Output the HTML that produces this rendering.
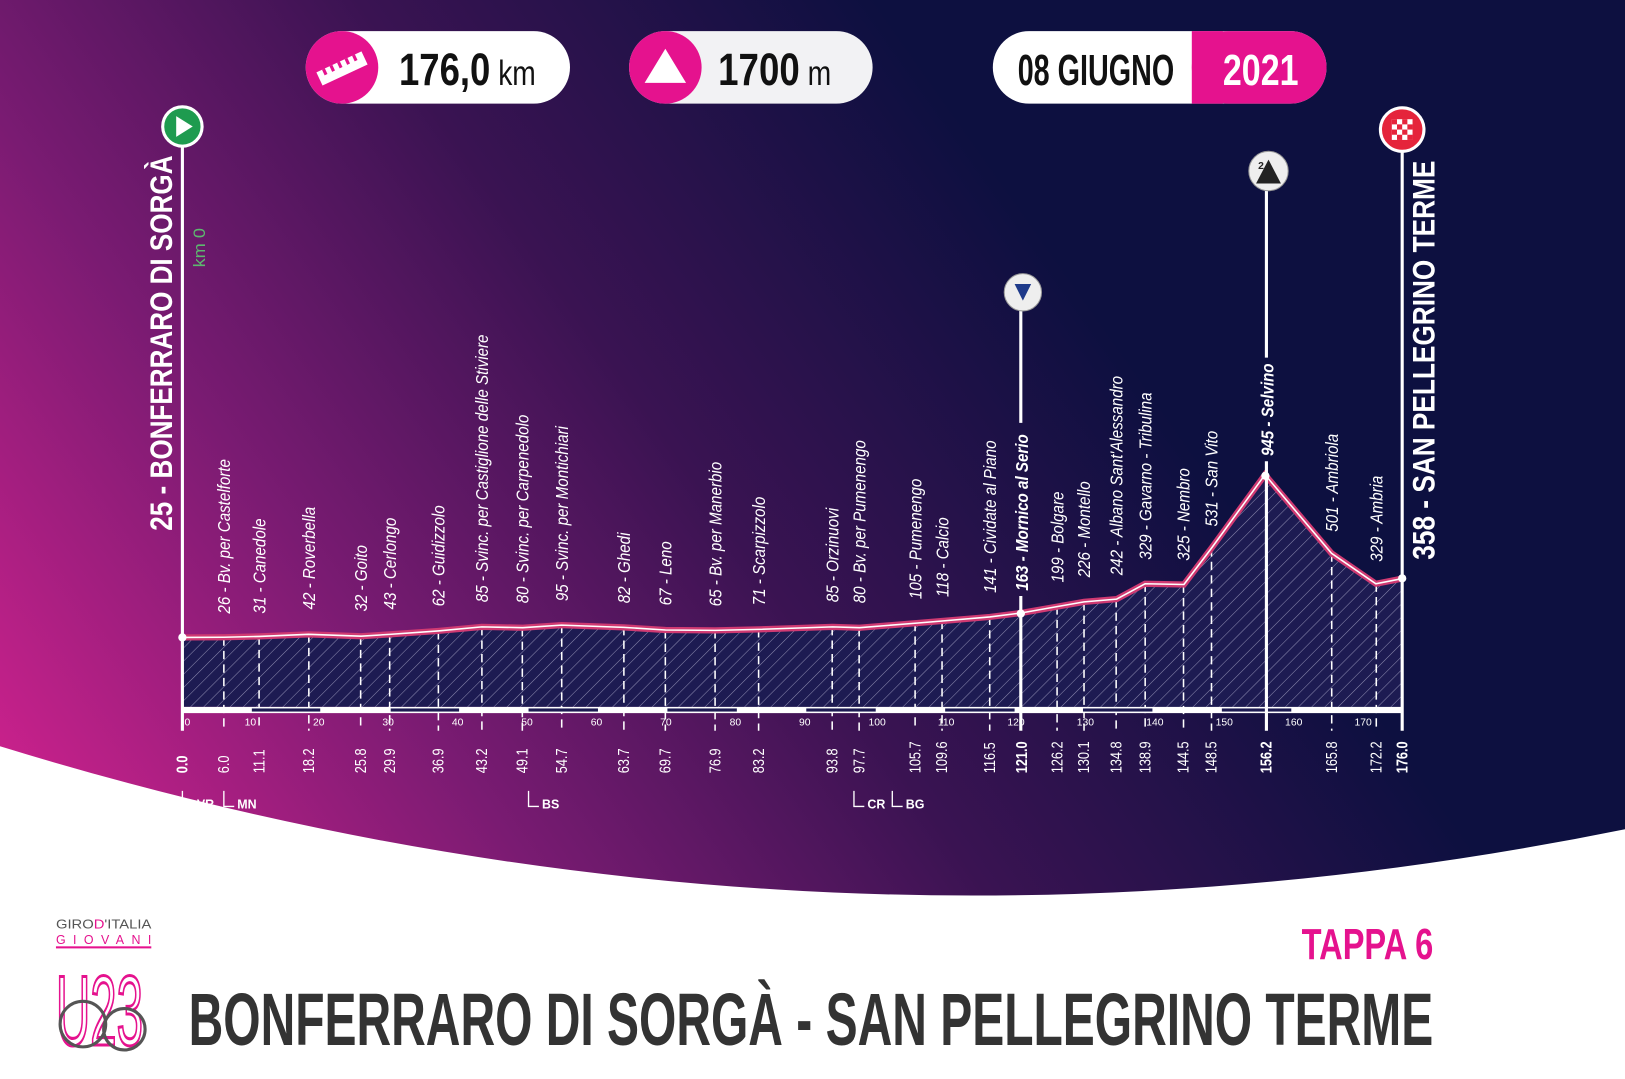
<!DOCTYPE html>
<html><head><meta charset="utf-8"><style>
html,body{margin:0;padding:0;background:#fff;}
svg{display:block;}
.n{font-family:"Liberation Sans",sans-serif;}
.lab{font-family:"Liberation Sans",sans-serif;font-style:italic;font-size:17px;fill:#fff;}
.km{font-family:"Liberation Sans",sans-serif;font-size:15px;fill:#fff;}
.tk{font-family:"Liberation Sans",sans-serif;font-size:10px;fill:#fff;}
</style></head><body>
<svg width="1625" height="1079" viewBox="0 0 1568 1041" preserveAspectRatio="none" xmlns="http://www.w3.org/2000/svg">
<defs>
<linearGradient id="bg" x1="0" y1="820" x2="950" y2="150" gradientUnits="userSpaceOnUse">
<stop offset="0" stop-color="#d4228f"/><stop offset="0.35" stop-color="#7a1b72"/><stop offset="0.65" stop-color="#3a1352"/><stop offset="1" stop-color="#0d1040"/>
</linearGradient>
<pattern id="h" width="9" height="9" patternUnits="userSpaceOnUse" patternTransform="rotate(45)">
<rect width="9" height="9" fill="#1d1b52"/><line x1="0" y1="0" x2="0" y2="9" stroke="#8d8bb0" stroke-width="1"/>
</pattern>
</defs>
<rect width="1568" height="1041" fill="#fff"/>
<path d="M0 0H1568V800Q780 960 0 720Z" fill="url(#bg)"/>
<!-- pills -->
<rect x="295" y="30" width="255" height="70" rx="35" fill="#fff"/>
<circle cx="330" cy="65" r="35" fill="#e5128e"/>
<g transform="rotate(-25 330 66)"><rect x="306" y="59" width="48" height="14" fill="#fff"/><g fill="#e5128e"><rect x="312" y="59" width="3" height="6"/><rect x="320" y="59" width="3" height="6"/><rect x="328" y="59" width="3" height="6"/><rect x="336" y="59" width="3" height="6"/><rect x="344" y="59" width="3" height="6"/></g></g>
<text x="385" y="82" class="n" font-size="44" font-weight="bold" fill="#111" textLength="132" lengthAdjust="spacingAndGlyphs">176,0<tspan font-size="34" font-weight="normal"> km</tspan></text>
<rect x="607" y="30" width="235" height="70" rx="35" fill="#f2f2f4"/>
<circle cx="642" cy="65" r="35" fill="#e5128e"/>
<path d="M642 47L622 80H662Z" fill="#fff"/>
<text x="693" y="82" class="n" font-size="44" font-weight="bold" fill="#111" textLength="109" lengthAdjust="spacingAndGlyphs">1700<tspan font-size="34" font-weight="normal"> m</tspan></text>
<rect x="958" y="30" width="322" height="70" rx="35" fill="#fff"/>
<rect x="1150" y="30" width="130" height="70" rx="35" fill="#e5128e"/>
<rect x="1150" y="30" width="30" height="70" fill="#e5128e"/>
<text x="982" y="82" class="n" font-size="42" font-weight="bold" fill="#111" textLength="151" lengthAdjust="spacingAndGlyphs">08 GIUGNO</text>
<text x="1180" y="82" class="n" font-size="42" font-weight="bold" fill="#fff" textLength="73" lengthAdjust="spacingAndGlyphs">2021</text>
<!-- profile -->
<path d="M176 682L176 615 216.1 614.8 250.2 614 297.7 612 348.5 613.8 376 612 422.8 608.7 464.9 604.8 504.4 605.6 541.8 603.1 602 605.3 642.1 607.8 690.3 608.2 732.4 607.2 803.3 604.8 829.4 605.6 882.9 601.3 909 599.1 955.1 595.2 985.2 591.4 1019.9 585.3 1046 580.7 1077.5 578 1104.9 563.2 1142.4 563.9 1169.1 528.7 1220.6 458 1284.8 533.8 1327.6 563.2 1353 558.2 1353 682Z" fill="url(#h)"/>
<g stroke="#fff" stroke-width="1.5" stroke-dasharray="8 5">
<line x1="216" y1="615" x2="216" y2="705"/><line x1="250" y1="614" x2="250" y2="705"/><line x1="298" y1="612" x2="298" y2="705"/><line x1="348" y1="614" x2="348" y2="705"/><line x1="376" y1="612" x2="376" y2="705"/><line x1="423" y1="609" x2="423" y2="705"/><line x1="465" y1="605" x2="465" y2="705"/><line x1="504" y1="606" x2="504" y2="705"/><line x1="542" y1="603" x2="542" y2="705"/><line x1="602" y1="605" x2="602" y2="705"/><line x1="642" y1="608" x2="642" y2="705"/><line x1="690" y1="608" x2="690" y2="705"/><line x1="732" y1="607" x2="732" y2="705"/><line x1="803" y1="605" x2="803" y2="705"/><line x1="829" y1="606" x2="829" y2="705"/><line x1="883" y1="601" x2="883" y2="705"/><line x1="909" y1="599" x2="909" y2="705"/><line x1="955" y1="595" x2="955" y2="705"/><line x1="1020" y1="585" x2="1020" y2="705"/><line x1="1046" y1="581" x2="1046" y2="705"/><line x1="1077" y1="578" x2="1077" y2="705"/><line x1="1105" y1="563" x2="1105" y2="705"/><line x1="1142" y1="564" x2="1142" y2="705"/><line x1="1169" y1="529" x2="1169" y2="705"/><line x1="1285" y1="534" x2="1285" y2="705"/><line x1="1328" y1="563" x2="1328" y2="705"/>
</g>
<polyline points="176 615 216.1 614.8 250.2 614 297.7 612 348.5 613.8 376 612 422.8 608.7 464.9 604.8 504.4 605.6 541.8 603.1 602 605.3 642.1 607.8 690.3 608.2 732.4 607.2 803.3 604.8 829.4 605.6 882.9 601.3 909 599.1 955.1 595.2 985.2 591.4 1019.9 585.3 1046 580.7 1077.5 578 1104.9 563.2 1142.4 563.9 1169.1 528.7 1220.6 458 1284.8 533.8 1327.6 563.2 1353 558.2" fill="none" stroke="#d03a72" stroke-width="6"/>
<polyline points="176 615 216.1 614.8 250.2 614 297.7 612 348.5 613.8 376 612 422.8 608.7 464.9 604.8 504.4 605.6 541.8 603.1 602 605.3 642.1 607.8 690.3 608.2 732.4 607.2 803.3 604.8 829.4 605.6 882.9 601.3 909 599.1 955.1 595.2 985.2 591.4 1019.9 585.3 1046 580.7 1077.5 578 1104.9 563.2 1142.4 563.9 1169.1 528.7 1220.6 458 1284.8 533.8 1327.6 563.2 1353 558.2" fill="none" stroke="#fff" stroke-width="1.5"/>
<!-- axis bar -->
<rect x="176" y="682" width="1177" height="6" fill="#fff"/>
<g fill="#1d1b52"><rect x="243" y="683.5" width="66" height="3"/><rect x="377" y="683.5" width="66" height="3"/><rect x="510" y="683.5" width="67" height="3"/><rect x="644" y="683.5" width="67" height="3"/><rect x="778" y="683.5" width="67" height="3"/><rect x="912" y="683.5" width="67" height="3"/><rect x="1045" y="683.5" width="67" height="3"/><rect x="1179" y="683.5" width="67" height="3"/></g>
<g class="tk"><text x="178" y="700">0</text><text x="236" y="700">10</text><text x="302" y="700">20</text><text x="369" y="700">30</text><text x="436" y="700">40</text><text x="503" y="700">50</text><text x="570" y="700">60</text><text x="637" y="700">70</text><text x="704" y="700">80</text><text x="771" y="700">90</text><text x="838" y="700">100</text><text x="905" y="700">110</text><text x="972" y="700">120</text><text x="1039" y="700">130</text><text x="1106" y="700">140</text><text x="1173" y="700">150</text><text x="1240" y="700">160</text><text x="1307" y="700">170</text></g>
<!-- main vertical lines -->
<g stroke="#fff" stroke-width="3"><line x1="176" y1="135" x2="176" y2="705"/><line x1="1353" y1="140" x2="1353" y2="705"/><line x1="1222" y1="180" x2="1222" y2="345"/><line x1="1222" y1="445" x2="1222" y2="705"/><line x1="985" y1="298" x2="985" y2="408"/><line x1="985" y1="575" x2="985" y2="705"/></g>
<circle cx="176" cy="615" r="4" fill="#fff"/><circle cx="985" cy="592" r="4" fill="#fff"/><circle cx="1221" cy="459" r="4" fill="#fff"/><circle cx="1353" cy="558" r="4" fill="#fff"/>
<!-- icons -->
<circle cx="176" cy="122" r="19" fill="#1e9b4f" stroke="#fff" stroke-width="3"/><path d="M170 112L170 132 186 122Z" fill="#fff"/>
<circle cx="1353" cy="125" r="21" fill="#e5243b" stroke="#fff" stroke-width="3"/><rect x="1343" y="115" width="20" height="20" fill="#fff"/><g fill="#e5243b"><rect x="1343" y="115" width="5" height="5"/><rect x="1353" y="115" width="5" height="5"/><rect x="1348" y="120" width="5" height="5"/><rect x="1358" y="120" width="5" height="5"/><rect x="1343" y="125" width="5" height="5"/><rect x="1353" y="125" width="5" height="5"/><rect x="1348" y="130" width="5" height="5"/><rect x="1358" y="130" width="5" height="5"/></g>
<circle cx="1224" cy="165" r="19" fill="#eee" stroke="#999" stroke-width="1"/><path d="M1224 154L1212 177H1236Z" fill="#222"/><text x="1214" y="163" font-size="10" font-family="Liberation Sans" font-weight="bold" fill="#222">2</text>
<circle cx="987" cy="282" r="18" fill="#eee" stroke="#999" stroke-width="1"/><path d="M979 274H995L987 290Z" fill="#1e3a8a"/>
<!-- big vertical names -->
<text transform="translate(166 512) rotate(-90)" class="n" font-size="30" font-weight="bold" fill="#fff" textLength="362" lengthAdjust="spacingAndGlyphs">25 - BONFERRARO DI SORGÀ</text>
<text transform="translate(198 258) rotate(-90)" class="n" font-size="16" fill="#5db86f" textLength="38" lengthAdjust="spacingAndGlyphs">km 0</text>
<text transform="translate(1384 540) rotate(-90)" class="n" font-size="30" font-weight="bold" fill="#fff" textLength="385" lengthAdjust="spacingAndGlyphs">358 - SAN PELLEGRINO TERME</text>
<!-- waypoint labels -->
<g class="lab">
<text transform="translate(222 592) rotate(-90) scale(0.86 1)">26 - Bv. per Castelforte</text>
<text transform="translate(256 592) rotate(-90) scale(0.86 1)">31 - Canedole</text>
<text transform="translate(304 588) rotate(-90) scale(0.86 1)">42 - Roverbella</text>
<text transform="translate(354 590) rotate(-90) scale(0.86 1)">32 - Goito</text>
<text transform="translate(382 588) rotate(-90) scale(0.86 1)">43 - Cerlongo</text>
<text transform="translate(429 585) rotate(-90) scale(0.86 1)">62 - Guidizzolo</text>
<text transform="translate(471 581) rotate(-90) scale(0.86 1)">85 - Svinc. per Castiglione delle Stiviere</text>
<text transform="translate(510 582) rotate(-90) scale(0.86 1)">80 - Svinc. per Carpenedolo</text>
<text transform="translate(548 580) rotate(-90) scale(0.86 1)">95 - Svinc. per Montichiari</text>
<text transform="translate(608 582) rotate(-90) scale(0.86 1)">82 - Ghedi</text>
<text transform="translate(648 584) rotate(-90) scale(0.86 1)">67 - Leno</text>
<text transform="translate(696 585) rotate(-90) scale(0.86 1)">65 - Bv. per Manerbio</text>
<text transform="translate(738 584) rotate(-90) scale(0.86 1)">71 - Scarpizzolo</text>
<text transform="translate(809 581) rotate(-90) scale(0.86 1)">85 - Orzinuovi</text>
<text transform="translate(835 582) rotate(-90) scale(0.86 1)">80 - Bv. per Pumenengo</text>
<text transform="translate(889 578) rotate(-90) scale(0.86 1)">105 - Pumenengo</text>
<text transform="translate(915 576) rotate(-90) scale(0.86 1)">118 - Calcio</text>
<text transform="translate(961 572) rotate(-90) scale(0.86 1)">141 - Cividate al Piano</text>
<text transform="translate(992 570) rotate(-90) scale(0.86 1)" font-weight="bold">163 - Mornico al Serio</text>
<text transform="translate(1026 562) rotate(-90) scale(0.86 1)">199 - Bolgare</text>
<text transform="translate(1052 557) rotate(-90) scale(0.86 1)">226 - Montello</text>
<text transform="translate(1083 555) rotate(-90) scale(0.86 1)">242 - Albano Sant'Alessandro</text>
<text transform="translate(1111 540) rotate(-90) scale(0.86 1)">329 - Gavarno - Tribulina</text>
<text transform="translate(1148 541) rotate(-90) scale(0.86 1)">325 - Nembro</text>
<text transform="translate(1175 508) rotate(-90) scale(0.86 1)">531 - San Vito</text>
<text transform="translate(1229 440) rotate(-90) scale(0.86 1)" font-weight="bold">945 - Selvino</text>
<text transform="translate(1291 513) rotate(-90) scale(0.86 1)">501 - Ambriola</text>
<text transform="translate(1334 542) rotate(-90) scale(0.86 1)">329 - Ambria</text>
</g>
<!-- km labels -->
<g class="km">
<text transform="translate(181 746) rotate(-90) scale(0.82 1)" font-weight="bold">0.0</text>
<text transform="translate(221 746) rotate(-90) scale(0.82 1)">6.0</text>
<text transform="translate(255 746) rotate(-90) scale(0.82 1)">11.1</text>
<text transform="translate(303 746) rotate(-90) scale(0.82 1)">18.2</text>
<text transform="translate(353 746) rotate(-90) scale(0.82 1)">25.8</text>
<text transform="translate(381 746) rotate(-90) scale(0.82 1)">29.9</text>
<text transform="translate(428 746) rotate(-90) scale(0.82 1)">36.9</text>
<text transform="translate(470 746) rotate(-90) scale(0.82 1)">43.2</text>
<text transform="translate(509 746) rotate(-90) scale(0.82 1)">49.1</text>
<text transform="translate(547 746) rotate(-90) scale(0.82 1)">54.7</text>
<text transform="translate(607 746) rotate(-90) scale(0.82 1)">63.7</text>
<text transform="translate(647 746) rotate(-90) scale(0.82 1)">69.7</text>
<text transform="translate(695 746) rotate(-90) scale(0.82 1)">76.9</text>
<text transform="translate(737 746) rotate(-90) scale(0.82 1)">83.2</text>
<text transform="translate(808 746) rotate(-90) scale(0.82 1)">93.8</text>
<text transform="translate(834 746) rotate(-90) scale(0.82 1)">97.7</text>
<text transform="translate(888 746) rotate(-90) scale(0.82 1)">105.7</text>
<text transform="translate(914 746) rotate(-90) scale(0.82 1)">109.6</text>
<text transform="translate(960 746) rotate(-90) scale(0.82 1)">116.5</text>
<text transform="translate(991 746) rotate(-90) scale(0.82 1)" font-weight="bold">121.0</text>
<text transform="translate(1025 746) rotate(-90) scale(0.82 1)">126.2</text>
<text transform="translate(1051 746) rotate(-90) scale(0.82 1)">130.1</text>
<text transform="translate(1082 746) rotate(-90) scale(0.82 1)">134.8</text>
<text transform="translate(1110 746) rotate(-90) scale(0.82 1)">138.9</text>
<text transform="translate(1147 746) rotate(-90) scale(0.82 1)">144.5</text>
<text transform="translate(1174 746) rotate(-90) scale(0.82 1)">148.5</text>
<text transform="translate(1227 746) rotate(-90) scale(0.82 1)" font-weight="bold">156.2</text>
<text transform="translate(1290 746) rotate(-90) scale(0.82 1)">165.8</text>
<text transform="translate(1333 746) rotate(-90) scale(0.82 1)">172.2</text>
<text transform="translate(1358 746) rotate(-90) scale(0.82 1)" font-weight="bold">176.0</text>
</g>
<!-- province markers -->
<g stroke="#fff" stroke-width="1.3" fill="none"><path d="M176 763V778H186"/><path d="M216 763V778H226"/><path d="M510 763V778H520"/><path d="M824 763V778H834"/><path d="M861 763V778H871"/></g>
<g class="n" font-size="12" font-weight="bold" fill="#fff"><text x="190" y="780">VR</text><text x="229" y="780">MN</text><text x="523" y="780">BS</text><text x="837" y="780">CR</text><text x="874" y="780">BG</text></g>
<!-- bottom -->
<text x="54" y="896" font-family="Liberation Sans" font-size="12" fill="#555" textLength="92" lengthAdjust="spacingAndGlyphs">GIRO<tspan fill="#e5128e">D</tspan>'ITALIA</text>
<text x="54" y="911" font-family="Liberation Sans" font-size="12" fill="#e5128e" textLength="92" lengthAdjust="spacing">GIOVANI</text>
<rect x="54" y="913" width="92" height="2" fill="#e5128e"/>
<text x="54" y="1008" class="n" font-size="96" fill="none" stroke="#e5128e" stroke-width="3" textLength="84" lengthAdjust="spacingAndGlyphs">U23</text>
<circle cx="80" cy="988" r="22" fill="none" stroke="#555" stroke-width="3"/><circle cx="120" cy="993" r="20" fill="none" stroke="#555" stroke-width="3"/>
<text x="1256" y="925" class="n" font-size="42" font-weight="bold" fill="#e5128e" textLength="127" lengthAdjust="spacingAndGlyphs">TAPPA 6</text>
<text x="182" y="1008" class="n" font-size="72" font-weight="bold" fill="#333" textLength="1201" lengthAdjust="spacingAndGlyphs">BONFERRARO DI SORGÀ - SAN PELLEGRINO TERME</text>
</svg>
</body></html>
